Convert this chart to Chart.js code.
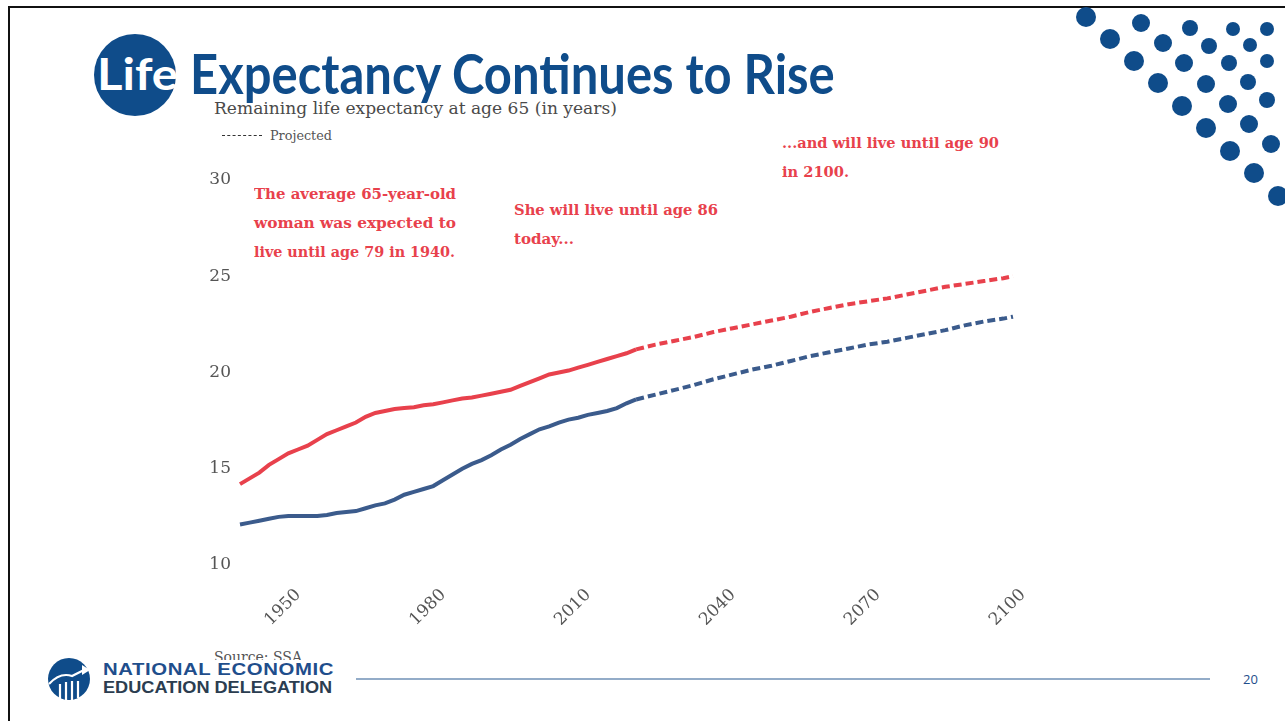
<!DOCTYPE html>
<html>
<head>
<meta charset="utf-8">
<script src="https://cdn.jsdelivr.net/npm/chart.js@4/dist/chart.umd.min.js"></script>
<style>
  html, body { margin: 0; padding: 0; background: #fff; }
  #slide { position: relative; width: 1285px; height: 721px; overflow: hidden; background: #fff; }
  #slide div { position: absolute; white-space: nowrap; transform-origin: 0 50%; }
  canvas { position: absolute; left: 0; top: 0; }
  .serif { font-family: "DejaVu Serif", serif; }
  .note { color: #e8414c; font-size: 14px; font-weight: bold; line-height: 29px; font-family: "DejaVu Serif", serif; }
</style>
</head>
<body>
<div id="slide">
  <svg width="1285" height="721" style="position:absolute;left:0;top:0">
    <line x1="8" y1="7" x2="1285" y2="7" stroke="#111" stroke-width="2"/>
    <line x1="9" y1="6" x2="9" y2="721" stroke="#111" stroke-width="2"/>
    <circle cx="135" cy="75" r="41" fill="#0f4c8a"/>
    <g id="dots" fill="#0f4c8a"></g>
    <line x1="356" y1="679" x2="1210" y2="679" stroke="#6f90b6" stroke-width="1.5"/>
    <!-- logo -->
    <circle cx="69" cy="679" r="21" fill="#0f4c8a"/>
    <g stroke="#fff" stroke-width="2.2" fill="none">
      <line x1="60" y1="700" x2="60" y2="684"/>
      <line x1="66" y1="700" x2="66" y2="682"/>
      <line x1="72" y1="700" x2="72" y2="681"/>
      <line x1="78" y1="698" x2="78" y2="681"/>
      <path d="M49 684 Q60 672 72 676 L84 670"/>
    </g>
    <path d="M82 665 L90 670 L82 675 Z" fill="#fff"/>
  </svg>

  <div style="left:97px;top:48px;font:bold 44px Lato, sans-serif;color:#fff;line-height:50px" data-w="81">Life</div>
  <div style="left:190px;top:43px;font:bold 55px Lato, sans-serif;color:#0f4c8a;line-height:60px" data-w="645">Expectancy Continues to Rise</div>
  <div class="serif" style="left:214px;top:97px;font-size:17.5px;color:#4a4a4a;line-height:22px" data-w="403">Remaining life expectancy at age 65 (in years)</div>
  <div style="left:222px;top:135px;width:40px;height:0;border-top:1.5px dashed #333"></div>
  <div class="serif" style="left:270px;top:127px;font-size:12.5px;color:#555;line-height:18px" data-w="62">Projected</div>

  <div class="note" style="left:254px;top:180px" data-w="202">The average 65-year-old</div>
  <div class="note" style="left:254px;top:209px" data-w="202">woman was expected to</div>
  <div class="note" style="left:254px;top:238px" data-w="201">live until age 79 in 1940.</div>
  <div class="note" style="left:514px;top:196px" data-w="204">She will live until age 86</div>
  <div class="note" style="left:514px;top:225px" data-w="60">today...</div>
  <div class="note" style="left:782px;top:129px" data-w="217">...and will live until age 90</div>
  <div class="note" style="left:782px;top:158px" data-w="67">in 2100.</div>

  <div class="serif" style="left:214px;top:648px;font-size:14px;color:#555;line-height:18px">Source: SSA</div>
  <div style="left:103px;top:660px;font:bold 17px 'Liberation Sans', Arial, sans-serif;color:#1f4e8c;line-height:19px;background:#fff;letter-spacing:0.5px" data-w="231">NATIONAL ECONOMIC</div>
  <div style="left:103px;top:678px;font:bold 17px 'Liberation Sans', Arial, sans-serif;color:#2b3d50;line-height:19px" data-w="229">EDUCATION DELEGATION</div>
  <div style="left:1243px;top:671px;font:13px 'Open Sans', sans-serif;color:#1f4e8c;line-height:16px">20</div>

  <canvas id="js--chart" width="1285" height="721"></canvas>
</div>

<script>
const histYears = [1940, 1942, 1944, 1946, 1948, 1950, 1952, 1954, 1956, 1958, 1960, 1962, 1964, 1966,
  1968, 1970, 1972, 1974, 1976, 1978, 1980, 1982, 1984, 1986, 1988, 1990, 1992, 1994, 1996, 1998,
  2000, 2002, 2004, 2006, 2008, 2010, 2012, 2014, 2016, 2018, 2020, 2022];
const womenHist = [14.2, 14.5, 14.8, 15.2, 15.5, 15.8, 16.0, 16.2, 16.5, 16.8, 17.0, 17.2, 17.4, 17.7,
  17.9, 18.0, 18.1, 18.15, 18.2, 18.3, 18.35, 18.45, 18.55, 18.65, 18.7, 18.8, 18.9, 19.0, 19.1, 19.3,
  19.5, 19.7, 19.9, 20.0, 20.1, 20.25, 20.4, 20.55, 20.7, 20.85, 21.0, 21.2];
const menHist = [12.1, 12.2, 12.3, 12.4, 12.5, 12.55, 12.55, 12.55, 12.55, 12.6, 12.7, 12.75, 12.8, 12.95,
  13.1, 13.2, 13.4, 13.65, 13.8, 13.95, 14.1, 14.4, 14.7, 15.0, 15.25, 15.45, 15.7, 16.0, 16.25, 16.55,
  16.8, 17.05, 17.2, 17.4, 17.55, 17.65, 17.8, 17.9, 18.0, 18.15, 18.4, 18.6];

const projYears = [2022, 2026, 2030, 2034, 2038, 2042, 2046, 2050, 2054, 2058, 2062, 2066, 2070, 2074,
  2078, 2082, 2086, 2090, 2094, 2098, 2100];
const womenProj = [21.2, 21.45, 21.65, 21.85, 22.1, 22.3, 22.5, 22.7, 22.9, 23.15, 23.35, 23.55, 23.7, 23.85,
  24.05, 24.25, 24.45, 24.6, 24.75, 24.9, 25.0];
const menProj = [18.6, 18.85, 19.1, 19.35, 19.65, 19.9, 20.15, 20.35, 20.6, 20.85, 21.05, 21.25, 21.45, 21.6,
  21.8, 22.0, 22.2, 22.45, 22.65, 22.8, 22.9];

const xTicks = [1950, 1980, 2010, 2040, 2070, 2100];
const yTicks = [10, 15, 20, 25, 30];

const red = '#e8414c';
const blue = '#3b5b8c';

// decoration dots, top right corner: [x, y, r]
const dots = [
  [1086, 17, 10], [1141, 23, 9], [1190, 28, 8], [1233, 29, 7], [1267, 29, 7],
  [1110, 39, 10], [1163, 43, 9], [1209, 46, 8], [1250, 45, 7],
  [1134, 61, 10], [1184, 63, 9], [1229, 63, 8], [1267, 61, 7],
  [1158, 83, 10], [1206, 84, 9], [1248, 82, 8],
  [1182, 106, 10], [1228, 104, 9], [1267, 100, 8],
  [1206, 128, 10], [1249, 124, 9],
  [1230, 151, 10], [1271, 144, 9],
  [1254, 173, 10], [1278, 196, 10]
];
const dotGroup = document.getElementById('dots');
dots.forEach(function (d) {
  const c = document.createElementNS('http://www.w3.org/2000/svg', 'circle');
  c.setAttribute('cx', d[0]); c.setAttribute('cy', d[1]); c.setAttribute('r', d[2]);
  dotGroup.appendChild(c);
});

function pairs(xs, ys) {
  return xs.map(function (x, i) { return { x: x, y: ys[i] }; });
}

function lineSet(label, xs, ys, color, dashed) {
  return {
    label: label,
    data: pairs(xs, ys),
    borderColor: color,
    borderWidth: 4,
    borderDash: dashed ? [8, 4] : [],
    pointRadius: 0,
    tension: 0,
    clip: false
  };
}

const data = {
  datasets: [
    lineSet('Women', histYears, womenHist, red, false),
    lineSet('Women projected', projYears, womenProj, red, true),
    lineSet('Men', histYears, menHist, blue, false),
    lineSet('Men projected', projYears, menProj, blue, true)
  ]
};

const tickFont = { family: 'DejaVu Serif', size: 17 };

const config = {
  type: 'line',
  data: data,
  options: {
    responsive: false,
    animation: false,
    devicePixelRatio: 1,
    layout: { padding: { left: 190, right: 272, top: 180, bottom: 96 } },
    plugins: { legend: { display: false }, tooltip: { enabled: false } },
    scales: {
      x: {
        type: 'linear',
        min: 1940,
        max: 2100,
        grid: { display: false },
        border: { display: false },
        afterBuildTicks: function (axis) {
          axis.ticks = xTicks.map(function (v) { return { value: v }; });
        },
        afterFit: function (axis) { axis.height = 60; },
        ticks: {
          color: '#555',
          font: tickFont,
          minRotation: 45,
          maxRotation: 45,
          padding: 12,
          labelOffset: 10,
          callback: function (v) { return String(v); }
        }
      },
      y: {
        min: 10,
        max: 30,
        grid: { display: false },
        border: { display: false },
        afterBuildTicks: function (axis) {
          axis.ticks = yTicks.map(function (v) { return { value: v }; });
        },
        afterFit: function (axis) { axis.width = 50; },
        ticks: { color: '#555', font: tickFont, padding: 1 }
      }
    }
  }
};

new Chart(document.getElementById('js--chart'), config);

// squeeze/stretch text blocks to the widths measured on the slide
document.querySelectorAll('[data-w]').forEach(function (el) {
  const w = el.getBoundingClientRect().width;
  const target = parseFloat(el.getAttribute('data-w'));
  el.style.transform = 'scaleX(' + (target / w).toFixed(3) + ')';
});
</script>
</body>
</html>
